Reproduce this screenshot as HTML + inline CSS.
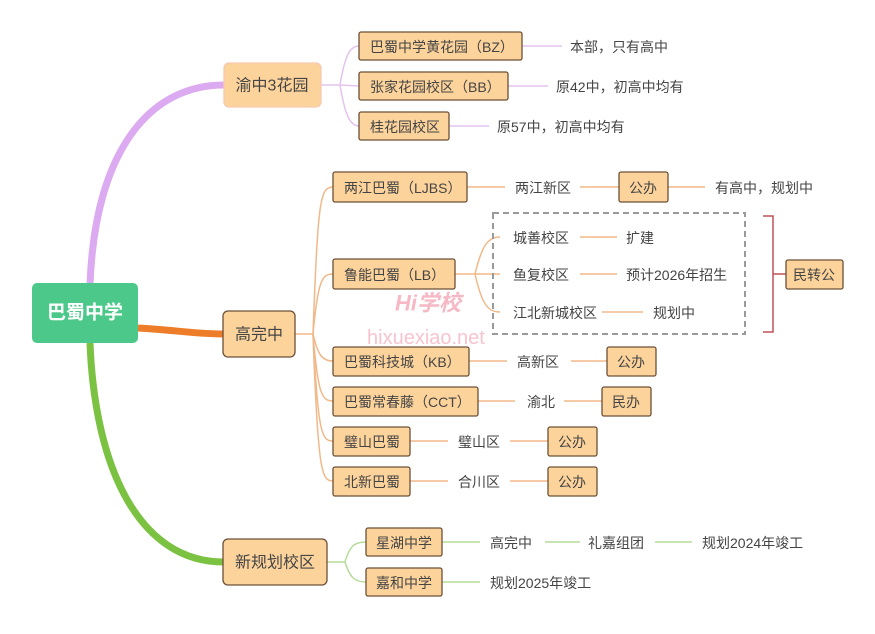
<!DOCTYPE html>
<html><head><meta charset="utf-8"><style>
html,body{margin:0;padding:0;background:#fff;}
svg text{font-family:"Liberation Sans","Noto Sans CJK SC",sans-serif;fill:#444;dominant-baseline:central;}
</style></head><body>
<svg width="875" height="629" viewBox="0 0 875 629" xmlns="http://www.w3.org/2000/svg">
<rect width="875" height="629" fill="#fff"/>
<!-- main branches -->
<path d="M90 285 C95 150,150 85,224 85" stroke="#dcaaf0" stroke-width="7" fill="none"/>
<path d="M138 328 C175 330,195 334,224 334" stroke="#ee7d2a" stroke-width="7" fill="none"/>
<path d="M90 343 C95 470,140 562,224 562" stroke="#7cc242" stroke-width="7" fill="none"/>
<!-- 渝中 children -->
<g stroke="#e4c4ee" stroke-width="1.5" fill="none">
<path d="M321 85 L340 85"/>
<path d="M340 85 C345 55,350 46,359 46"/>
<path d="M340 85 L359 86"/>
<path d="M340 85 C345 115,350 126,359 126"/>
<path d="M522 46 L562 46"/><path d="M508 86 L548 86"/><path d="M449 126 L489 126"/>
</g>
<!-- 高完中 children -->
<g stroke="#f0b98a" stroke-width="1.5" fill="none">
<path d="M295 334 L313 334"/>
<path d="M313 334 C318 200,320 187,333 187"/>
<path d="M313 334 C318 280,322 274,333 274"/>
<path d="M313 334 C318 355,322 361,333 361"/>
<path d="M313 334 C318 395,322 401,333 401"/>
<path d="M313 334 C318 435,322 441,333 441"/>
<path d="M313 334 C318 475,322 481,333 481"/>
<path d="M467 187 L505 187"/><path d="M580 187 L619 187"/><path d="M668 187 L705 187"/>
<path d="M455 274 L475 274"/>
<path d="M475 274 C482 245,488 237,500 237"/><path d="M475 274 L500 274"/><path d="M475 274 C482 305,488 312,500 312"/>
<path d="M580 237 L617 237"/><path d="M580 274 L617 274"/><path d="M602 312 L643 312"/>
<path d="M469 361 L507 361"/><path d="M571 361 L607 361"/>
<path d="M478 401 L515 401"/><path d="M564 401 L602 401"/>
<path d="M410 441 L448 441"/><path d="M510 441 L548 441"/>
<path d="M410 481 L448 481"/><path d="M510 481 L548 481"/>
</g>
<rect x="493" y="213" width="252" height="121" fill="none" stroke="#9a9a9a" stroke-width="2" stroke-dasharray="6,4"/>
<path d="M763 216 L773 216 L773 332 L763 332 M773 274 L786 274" stroke="#c0505a" stroke-width="1.5" fill="none"/>
<!-- 新规划 children -->
<g stroke="#b5dc98" stroke-width="1.5" fill="none">
<path d="M327 562 L345 562"/>
<path d="M345 562 C350 545,355 542,366 542"/><path d="M345 562 C350 578,355 582,366 582"/>
<path d="M442 542 L480 542"/><path d="M545 542 L580 542"/><path d="M655 542 L692 542"/>
<path d="M442 582 L480 582"/>
</g>
<!-- boxes -->
<rect x="32" y="283" width="106" height="60" rx="5" fill="#4cc88a"/>
<text x="85" y="313" text-anchor="middle" style="fill:#fff;font-size:19px;font-weight:bold">巴蜀中学</text>
<g fill="#fdd39c" stroke="#6b5035" stroke-width="1.3">
<rect x="224" y="63" width="97" height="44" rx="5" stroke="#f6c9b0"/>
<rect x="223" y="311" width="72" height="46" rx="5"/>
<rect x="223" y="539" width="104" height="46" rx="5"/>
<rect x="359" y="32" width="163" height="28" rx="2"/>
<rect x="359" y="72" width="149" height="28" rx="2"/>
<rect x="359" y="112" width="90" height="28" rx="2"/>
<rect x="333" y="172" width="134" height="30" rx="2"/>
<rect x="619" y="172" width="49" height="30" rx="2"/>
<rect x="333" y="259" width="122" height="30" rx="2"/>
<rect x="786" y="260" width="57" height="29" rx="2"/>
<rect x="333" y="347" width="136" height="29" rx="2"/>
<rect x="607" y="347" width="49" height="29" rx="2"/>
<rect x="333" y="387" width="145" height="29" rx="2"/>
<rect x="602" y="387" width="49" height="29" rx="2"/>
<rect x="333" y="427" width="77" height="29" rx="2"/>
<rect x="548" y="427" width="49" height="29" rx="2"/>
<rect x="333" y="467" width="77" height="29" rx="2"/>
<rect x="548" y="467" width="49" height="29" rx="2"/>
<rect x="366" y="528" width="76" height="28" rx="2"/>
<rect x="366" y="568" width="76" height="28" rx="2"/>
</g>
<g style="font-size:16px">
<text x="272" y="86" text-anchor="middle">渝中3花园</text>
<text x="259" y="335" text-anchor="middle">高完中</text>
<text x="275" y="563" text-anchor="middle">新规划校区</text>
</g>
<g style="font-size:14px">
<text x="370" y="47">巴蜀中学黄花园（BZ）</text>
<text x="370" y="87">张家花园校区（BB）</text>
<text x="370" y="127">桂花园校区</text>
<text x="570" y="47">本部，只有高中</text>
<text x="556" y="87">原42中，初高中均有</text>
<text x="497" y="127">原57中，初高中均有</text>
<text x="344" y="188">两江巴蜀（LJBS）</text>
<text x="515" y="188">两江新区</text>
<text x="643" y="188" text-anchor="middle">公办</text>
<text x="715" y="188">有高中，规划中</text>
<text x="344" y="275">鲁能巴蜀（LB）</text>
<text x="513" y="238">城善校区</text><text x="626" y="238">扩建</text>
<text x="513" y="275">鱼复校区</text><text x="626" y="275">预计2026年招生</text>
<text x="513" y="313">江北新城校区</text><text x="653" y="313">规划中</text>
<text x="814" y="275" text-anchor="middle">民转公</text>
<text x="344" y="362">巴蜀科技城（KB）</text><text x="517" y="362">高新区</text><text x="631" y="362" text-anchor="middle">公办</text>
<text x="344" y="402">巴蜀常春藤（CCT）</text><text x="527" y="402">渝北</text><text x="626" y="402" text-anchor="middle">民办</text>
<text x="344" y="442">璧山巴蜀</text><text x="458" y="442">璧山区</text><text x="572" y="442" text-anchor="middle">公办</text>
<text x="344" y="482">北新巴蜀</text><text x="458" y="482">合川区</text><text x="572" y="482" text-anchor="middle">公办</text>
<text x="376" y="543">星湖中学</text><text x="490" y="543">高完中</text><text x="588" y="543">礼嘉组团</text><text x="702" y="543">规划2024年竣工</text>
<text x="376" y="583">嘉和中学</text><text x="490" y="583">规划2025年竣工</text>
</g>
<text x="395" y="303" style="fill:#f6b8c4;font-size:22px;font-style:italic;font-weight:bold">Hi学校</text>
<text x="367" y="338" style="fill:#f8c4cf;font-size:20px">hixuexiao.net</text>
</svg>
</body></html>
